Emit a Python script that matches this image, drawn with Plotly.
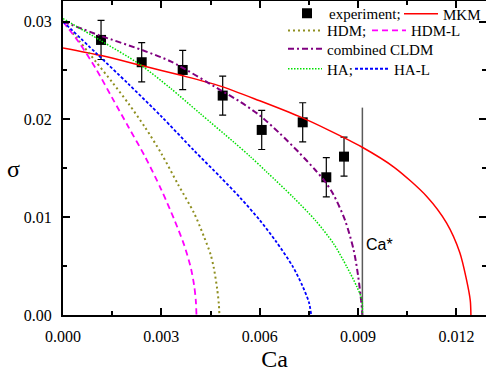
import plotly.graph_objects as go

# ---------------- data ----------------
exp_ca = [0.00116, 0.0024, 0.00365, 0.00487, 0.00606, 0.00731, 0.00803, 0.00857]
exp_sigma = [0.02812, 0.02584, 0.02505, 0.02243, 0.01892, 0.0197, 0.01408, 0.01619]
exp_err = [0.002, 0.002, 0.002, 0.002, 0.002, 0.002, 0.002, 0.002]

mkm_ca = [0, 0.0012, 0.0024, 0.0036, 0.0048, 0.0060, 0.0072, 0.0081, 0.0091, 0.0101, 0.0111, 0.0117, 0.0121, 0.0123, 0.01242, 0.01244]
mkm_sigma = [0.0273, 0.0265, 0.0255, 0.0245, 0.0234, 0.0219, 0.0203, 0.0189, 0.0172, 0.0151, 0.0121, 0.0094, 0.0064, 0.0037, 0.0015, 0.0]

hdm_ca = [0, 0.0005, 0.0010, 0.0015, 0.0020, 0.0025, 0.0030, 0.0035, 0.0040, 0.0043, 0.0045, 0.0046, 0.0047, 0.00475, 0.00477]
hdm_sigma = [0.0300, 0.0280, 0.0259, 0.0238, 0.0216, 0.0192, 0.0165, 0.0134, 0.0104, 0.0080, 0.0062, 0.0048, 0.0027, 0.0012, 0.0]

hdml_ca = [0, 0.0005, 0.0010, 0.0015, 0.0020, 0.0025, 0.0030, 0.0034, 0.0037, 0.0039, 0.0040, 0.00405, 0.00407]
hdml_sigma = [0.0300, 0.0278, 0.0252, 0.0222, 0.0192, 0.0162, 0.0128, 0.0097, 0.0071, 0.0048, 0.0030, 0.0015, 0.0]

cldm_ca = [0, 0.0011, 0.0024, 0.0033, 0.0048, 0.0054, 0.0060, 0.0066, 0.0072, 0.0077, 0.0080, 0.00825, 0.0086, 0.00886, 0.0090, 0.0091, 0.00913]
cldm_sigma = [0.0300, 0.0286, 0.0271, 0.0259, 0.0230, 0.0218, 0.0204, 0.0186, 0.0166, 0.0148, 0.0136, 0.0123, 0.0097, 0.0067, 0.0040, 0.0012, 0.0]

ha_ca = [0, 0.00113, 0.00235, 0.00327, 0.00418, 0.0052, 0.00571, 0.00622, 0.00703, 0.00769, 0.00825, 0.00866, 0.00896, 0.00912, 0.00913]
ha_sigma = [0.0303, 0.0281, 0.0256, 0.0232, 0.0206, 0.0177, 0.0162, 0.0146, 0.0120, 0.0097, 0.0073, 0.0049, 0.0029, 0.0015, 0.0]

hal_ca = [0, 0.0010, 0.0020, 0.0030, 0.0040, 0.0048, 0.0054, 0.0060, 0.0065, 0.0070, 0.0073, 0.0075, 0.00757]
hal_sigma = [0.0300, 0.0268, 0.0236, 0.0203, 0.0168, 0.0141, 0.0120, 0.0097, 0.0075, 0.0050, 0.0030, 0.0013, 0.0]

ca_star = [0.00913, 0.00913]
ca_star_sigma = [0.0, 0.0212]
ca_star_label_y = 0.00716

x_ticks = [0.000, 0.003, 0.006, 0.009, 0.012]
y_ticks = [0.00, 0.01, 0.02, 0.03]

SERIF = "Liberation Serif, Times New Roman, serif"
SANS = "Liberation Sans, Arial, sans-serif"

fig = go.Figure()

fig.add_trace(go.Scatter(x=ca_star, y=ca_star_sigma, mode="lines",
                         line=dict(color="#5a5a5a", width=1.5), showlegend=False, hoverinfo="skip"))

def curve(x, y, name, legend, **line):
    return go.Scatter(x=x, y=y, mode="lines", name=name, legend=legend,
                      line=dict(shape="spline", smoothing=0.8, **line))

fig.add_trace(go.Scatter(x=exp_ca, y=exp_sigma, mode="markers", name="experiment;",
                         marker=dict(symbol="square", size=10, color="black"),
                         error_y=dict(type="data", array=exp_err, color="black", thickness=1.2, width=3.5),
                         legend="legend"))
fig.add_trace(curve(mkm_ca, mkm_sigma, "MKM", "legend2", color="#ff0000", width=1.5))
fig.add_trace(curve(hdm_ca, hdm_sigma, "HDM;", "legend3", color="#8f8f20", width=2, dash="2px,3px"))
fig.add_trace(curve(hdml_ca, hdml_sigma, "HDM-L", "legend4", color="#ff00ff", width=1.8, dash="6px,4px"))
fig.add_trace(curve(cldm_ca, cldm_sigma, "combined CLDM", "legend5", color="#800080", width=2, dash="6px,3px,2px,3px"))
fig.add_trace(curve(ha_ca, ha_sigma, "HA;", "legend6", color="#00e000", width=1.5, dash="1.5px,1.5px"))
fig.add_trace(curve(hal_ca, hal_sigma, "HA-L", "legend7", color="#0000ff", width=1.8, dash="3px,2px"))

leg_common = dict(orientation="h", yanchor="middle", xanchor="left", itemwidth=34,
                  bgcolor="rgba(0,0,0,0)", font=dict(family=SERIF, size=15, color="black"),
                  itemclick=False, itemdoubleclick=False)

def px_x(p):
    return (p - 63) / 423.0

def px_y(p):
    return (315 - p) / 314.0

fig.update_layout(
    width=486, height=373,
    margin=dict(l=63, r=0, t=1, b=58, autoexpand=False),
    paper_bgcolor="white", plot_bgcolor="white",
    font=dict(family=SERIF, size=16, color="black"),
    legend=dict(x=px_x(285), y=px_y(13.5), **leg_common),
    legend2=dict(x=px_x(399), y=px_y(14.0), **leg_common),
    legend3=dict(x=px_x(283), y=px_y(30.7), **leg_common),
    legend4=dict(x=px_x(367), y=px_y(30.7), **leg_common),
    legend5=dict(x=px_x(283), y=px_y(49.0), **leg_common),
    legend6=dict(x=px_x(283), y=px_y(69.0), **leg_common),
    legend7=dict(x=px_x(350), y=px_y(69.0), **leg_common),
    xaxis=dict(range=[0, 0.0129], tickvals=x_ticks, tickformat=".3f",
               showgrid=False, zeroline=False, showline=True, linecolor="black", linewidth=2,
               mirror="ticks", ticks="inside", ticklen=7, tickwidth=1.5, tickcolor="black",
               minor=dict(ticks="inside", ticklen=4, tickwidth=1.5, dtick=0.0015, tickcolor="black"),
               tickfont=dict(family=SERIF, size=16), ticklabelstandoff=6,
               title=dict(text="Ca", font=dict(family=SERIF, size=24), standoff=6)),
    yaxis=dict(range=[0, 0.0321], tickvals=y_ticks, tickformat=".2f",
               showgrid=False, zeroline=False, showline=True, linecolor="black", linewidth=2,
               mirror="ticks", ticks="inside", ticklen=7, tickwidth=1.5, tickcolor="black",
               minor=dict(ticks="inside", ticklen=4, tickwidth=1.5, dtick=0.005, tickcolor="black"),
               tickfont=dict(family=SERIF, size=16), ticklabelstandoff=6),
    annotations=[
        dict(text="σ", xref="paper", yref="paper", x=-0.116, y=0.465, xanchor="center",
             yanchor="middle", showarrow=False, font=dict(family=SERIF, size=24, color="black")),
        dict(text="Ca*", xref="x", yref="y", x=ca_star[0], y=ca_star_label_y, xanchor="left",
             xshift=2, showarrow=False, font=dict(family=SANS, size=16, color="black")),
    ],
)

fig.write_html("out.html")
